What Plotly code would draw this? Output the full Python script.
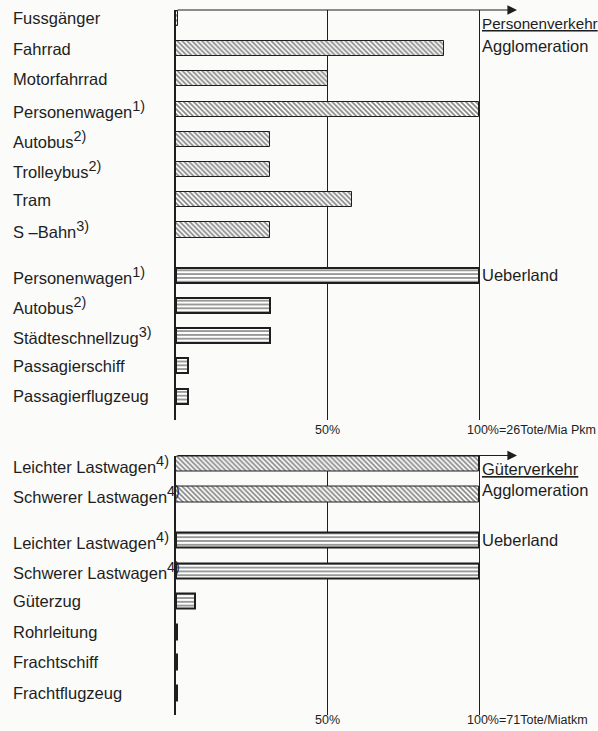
import plotly.graph_objects as go

# ---------------- data ----------------
pv_agglo_labels = ["Fussgänger", "Fahrrad", "Motorfahrrad", "Personenwagen<sup>1)</sup>",
                   "Autobus<sup>2)</sup>", "Trolleybus<sup>2)</sup>", "Tram", "S –Bahn<sup>3)</sup>"]
pv_agglo_values = [0.5, 88.5, 50, 100, 31, 31, 58, 31]

pv_ueber_labels = ["Personenwagen<sup>1)</sup>", "Autobus<sup>2)</sup>", "Städteschnellzug<sup>3)</sup>",
                   "Passagierschiff", "Passagierflugzeug"]
pv_ueber_values = [100, 31, 31, 3.8, 3.8]

gv_agglo_labels = ["Leichter Lastwagen<sup>4)</sup>", "Schwerer Lastwagen<sup>4)</sup>"]
gv_agglo_values = [100, 100]

gv_ueber_labels = ["Leichter Lastwagen<sup>4)</sup>", "Schwerer Lastwagen<sup>4)</sup>", "Güterzug",
                   "Rohrleitung", "Frachtschiff", "Frachtflugzeug"]
gv_ueber_values = [100, 100, 6.3, 0.3, 0.3, 0.3]

x_tick_vals = [50, 100]
pv_tick_labels = ["50%", "100%=26Tote/Mia Pkm"]
gv_tick_labels = ["50%", "100%=71Tote/Miatkm"]

pv_titles = ["Personenverkehr", "Agglomeration", "Ueberland"]
gv_titles = ["Güterverkehr", "Agglomeration", "Ueberland"]

# ---------------- layout constants ----------------
W, H = 598, 731
ML, MR = 176, 81
X_MAX = 112.5
INK = "#1e1e1e"
FONT = "Liberation Sans, Arial, sans-serif"
GAP = 0.5  # extra spacing between Agglomeration and Ueberland groups


def sup_big(s):
    return s.replace("<sup>", '<sup><span style="font-size:125%">').replace("</sup>", "</span></sup>")


def positions(n_agglo, n_ueber):
    a = [float(i) for i in range(n_agglo)]
    u = [n_agglo + GAP + i for i in range(n_ueber)]
    return a, u


pv_a_pos, pv_u_pos = positions(len(pv_agglo_values), len(pv_ueber_values))
gv_a_pos, gv_u_pos = positions(len(gv_agglo_values), len(gv_ueber_values))

top_range = [13.29, -0.28]
bot_range = [8.23, -0.28]

hatch = dict(color="white", line=dict(color=INK, width=1),
             pattern=dict(shape="\\", fillmode="overlay", fgcolor="#111111", size=3.5, solidity=0.5))
lines = dict(color="white", line=dict(color=INK, width=2),
             pattern=dict(shape="-", fillmode="overlay", fgcolor="#000000", size=3.8, solidity=0.4))

fig = go.Figure()


def add_bars(vals, pos, marker, xa, ya):
    fig.add_trace(go.Bar(x=vals, y=pos, orientation="h", width=0.5, marker=marker,
                         xaxis=xa, yaxis=ya, hoverinfo="skip", showlegend=False))


add_bars(pv_agglo_values, pv_a_pos, hatch, "x", "y")
add_bars(pv_ueber_values, pv_u_pos, lines, "x", "y")
add_bars(gv_agglo_values, gv_a_pos, hatch, "x2", "y2")
add_bars(gv_ueber_values, gv_u_pos, lines, "x2", "y2")

xaxis_common = dict(range=[0, X_MAX], tickvals=x_tick_vals, showticklabels=False, ticks="",
                    showgrid=True, gridcolor=INK, gridwidth=1, zeroline=False, showline=False,
                    fixedrange=True)
yaxis_common = dict(showticklabels=False, ticks="", showgrid=False, zeroline=False,
                    showline=True, linecolor=INK, linewidth=1.5, fixedrange=True)

fig.update_layout(
    width=W, height=H,
    margin=dict(l=ML, r=MR, t=0, b=0, pad=0),
    paper_bgcolor="#fbfbf9", plot_bgcolor="rgba(0,0,0,0)",
    bargap=0, showlegend=False,
    font=dict(family=FONT, color=INK),
    xaxis=dict(domain=[0, 1], anchor="y", **xaxis_common),
    yaxis=dict(domain=[1 - 420 / H, 1 - 10 / H], anchor="x", range=top_range, **yaxis_common),
    xaxis2=dict(domain=[0, 1], anchor="y2", **xaxis_common),
    yaxis2=dict(domain=[1 - 715 / H, 1 - 455.5 / H], anchor="x2", range=bot_range, **yaxis_common),
)

ann = []
LABEL_X = (11 - ML) / (W - ML - MR)
LBL = dict(family=FONT, size=16.5, color=INK)


def left_labels(labels, pos, yref):
    for t, p in zip(labels, pos):
        ann.append(dict(text=sup_big(t), x=LABEL_X, xref="paper", y=p, yref=yref, xanchor="left",
                        yanchor="middle", showarrow=False, font=LBL))


left_labels(pv_agglo_labels, pv_a_pos, "y")
left_labels(pv_ueber_labels, pv_u_pos, "y")
left_labels(gv_agglo_labels, gv_a_pos, "y2")
left_labels(gv_ueber_labels, gv_u_pos, "y2")

# arrows along the top of each panel
for xr, yr, yv in [("x", "y", top_range[1]), ("x2", "y2", bot_range[1])]:
    ann.append(dict(text="", x=X_MAX, y=yv, xref=xr, yref=yr, ax=0, ay=yv, axref=xr, ayref=yr,
                    showarrow=True, arrowhead=2, arrowsize=1.6, arrowwidth=1.2, arrowcolor=INK,
                    standoff=0, startstandoff=0))


# right-hand group titles
def right_titles(titles, ys, yref, sizes):
    for t, yv, s in zip(titles, ys, sizes):
        ann.append(dict(text=t, x=100, xref=yref.replace("y", "x"), y=yv, yref=yref,
                        xanchor="left", yanchor="middle", xshift=1, showarrow=False,
                        font=dict(family=FONT, size=s, color=INK)))


right_titles(["<u>" + pv_titles[0] + "</u>", pv_titles[1], pv_titles[2]],
             [0.18, 0.9, pv_u_pos[0]], "y", [15.2, 16.5, 16.5])
right_titles(["<u>" + gv_titles[0] + "</u>", gv_titles[1], gv_titles[2]],
             [0.15, 0.85, gv_u_pos[0]], "y2", [16.5, 16.5, 16.5])

# x tick labels under each panel
TICK = dict(family=FONT, size=12.5, color=INK)
for labels, xr, ypix in [(pv_tick_labels, "x", 430), (gv_tick_labels, "x2", 720)]:
    ann.append(dict(text=labels[0], x=x_tick_vals[0], xref=xr, y=1 - ypix / H, yref="paper",
                    xanchor="center", yanchor="middle", showarrow=False, font=TICK))
    ann.append(dict(text=labels[1], x=x_tick_vals[1], xref=xr, y=1 - ypix / H, yref="paper",
                    xanchor="left", xshift=-14, yanchor="middle", showarrow=False, font=TICK))

fig.update_layout(annotations=ann)

fig.write_html("out.html", config={"displayModeBar": False},
               post_script="document.body.style.margin='0';document.body.style.overflow='hidden';")
